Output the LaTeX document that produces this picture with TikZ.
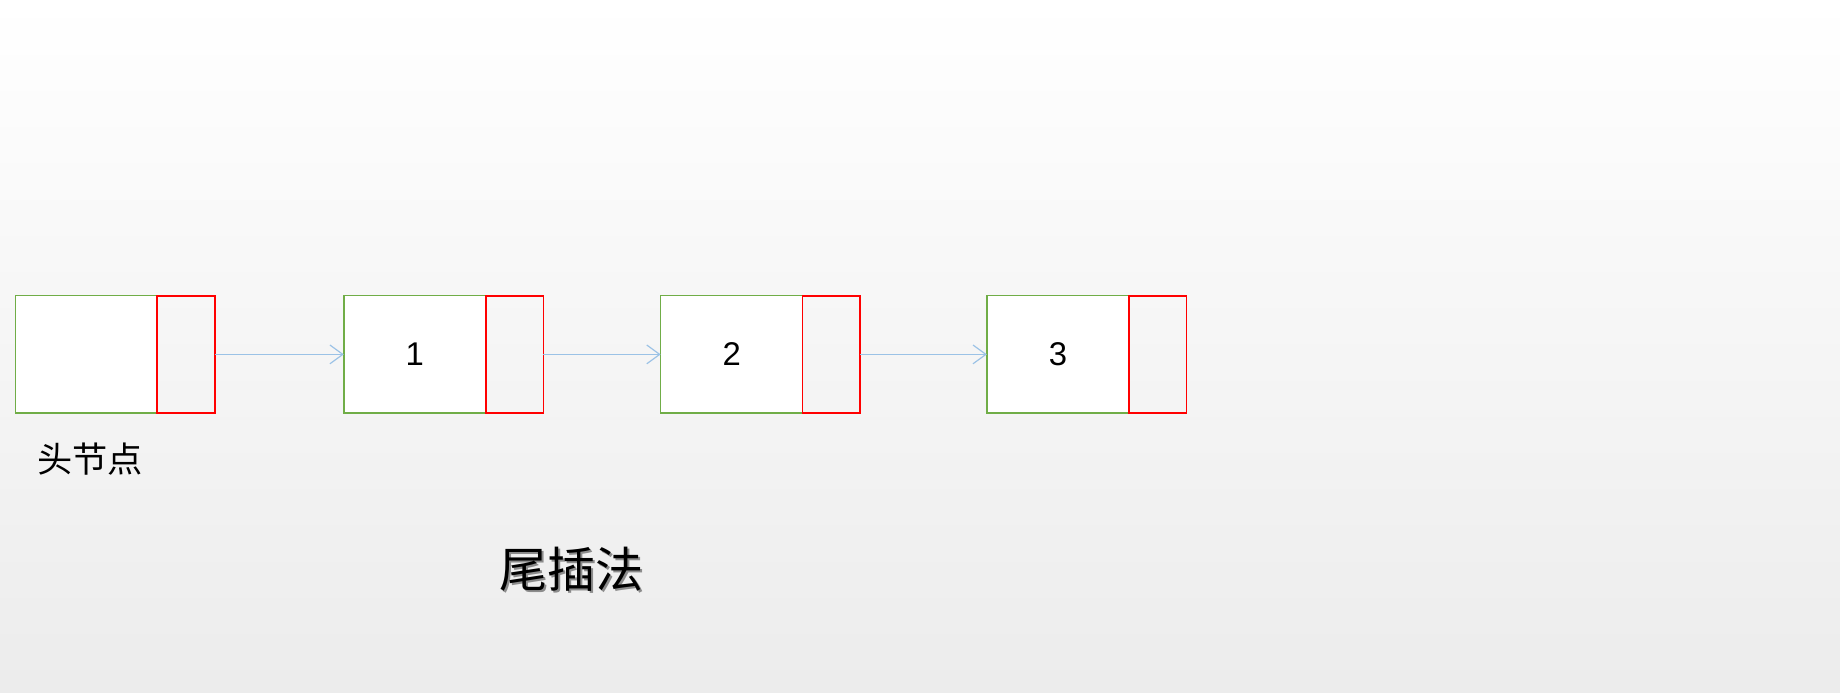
\documentclass[tikz,border=0pt]{standalone}
\usepackage{fontspec}
\setmainfont{Liberation Sans}
\newfontfamily\cjk{Noto Sans CJK SC}
\usetikzlibrary{positioning,arrows.meta}

\definecolor{datagreen}{RGB}{112,173,71}
\definecolor{nextred}{RGB}{255,0,0}
\definecolor{linkblue}{RGB}{155,194,230}

\tikzset{every picture/.style={line width=0.75pt}}
\tikzset{
  databox/.style={draw=datagreen, fill=white, line width=0.6pt, outer sep=0pt, minimum width=60.5pt, minimum height=50pt, inner sep=0pt, font=\fontsize{14}{16}\selectfont},
  nextbox/.style={draw=nextred, line width=0.7pt, outer sep=0pt, minimum width=24.5pt, minimum height=50pt, inner sep=0pt},
  link/.style={draw=linkblue, line width=0.5pt, -{Straight Barb[length=5.5pt,width=8pt]}}
}

\begin{document}
\begin{tikzpicture}[x=0.5pt,y=0.5pt,yscale=-1]
%background, sets the size of the diagram
\shade [top color=white, bottom color=gray!15] (0,0) rectangle (1568,590);
\useasboundingbox (0,0) rectangle (1568,590);

%Nodes
\node [databox] (head) at (73.5,302) {};
\node [nextbox, right=0pt of head] (headnext) {};
\node [databox] (d1) at (353.5,302) {1};
\node [nextbox, right=0pt of d1] (d1next) {};
\node [databox] (d2) at (623.5,302) {2};
\node [nextbox, right=0pt of d2] (d2next) {};
\node [databox] (d3) at (901.5,302) {3};
\node [nextbox, right=0pt of d3] (d3next) {};

%Links
\draw [link] (headnext.east) -- (d1.west);
\draw [link] (d1next.east) -- (d2.west);
\draw [link] (d2next.east) -- (d3.west);

% Text Node
\node [inner sep=0pt, font=\cjk\fontsize{15}{18}\selectfont] (headlabel) at (77,391) {头节点};
% Text Node
\node [inner sep=0pt, text=black!45, font=\cjk\fontsize{20.5}{24}\selectfont] (titleshadow) at (488.5,486.5) {尾插法};
\node [inner sep=0pt, font=\cjk\fontsize{20.5}{24}\selectfont] (title) at (487,485) {尾插法};
\end{tikzpicture}
\end{document}
